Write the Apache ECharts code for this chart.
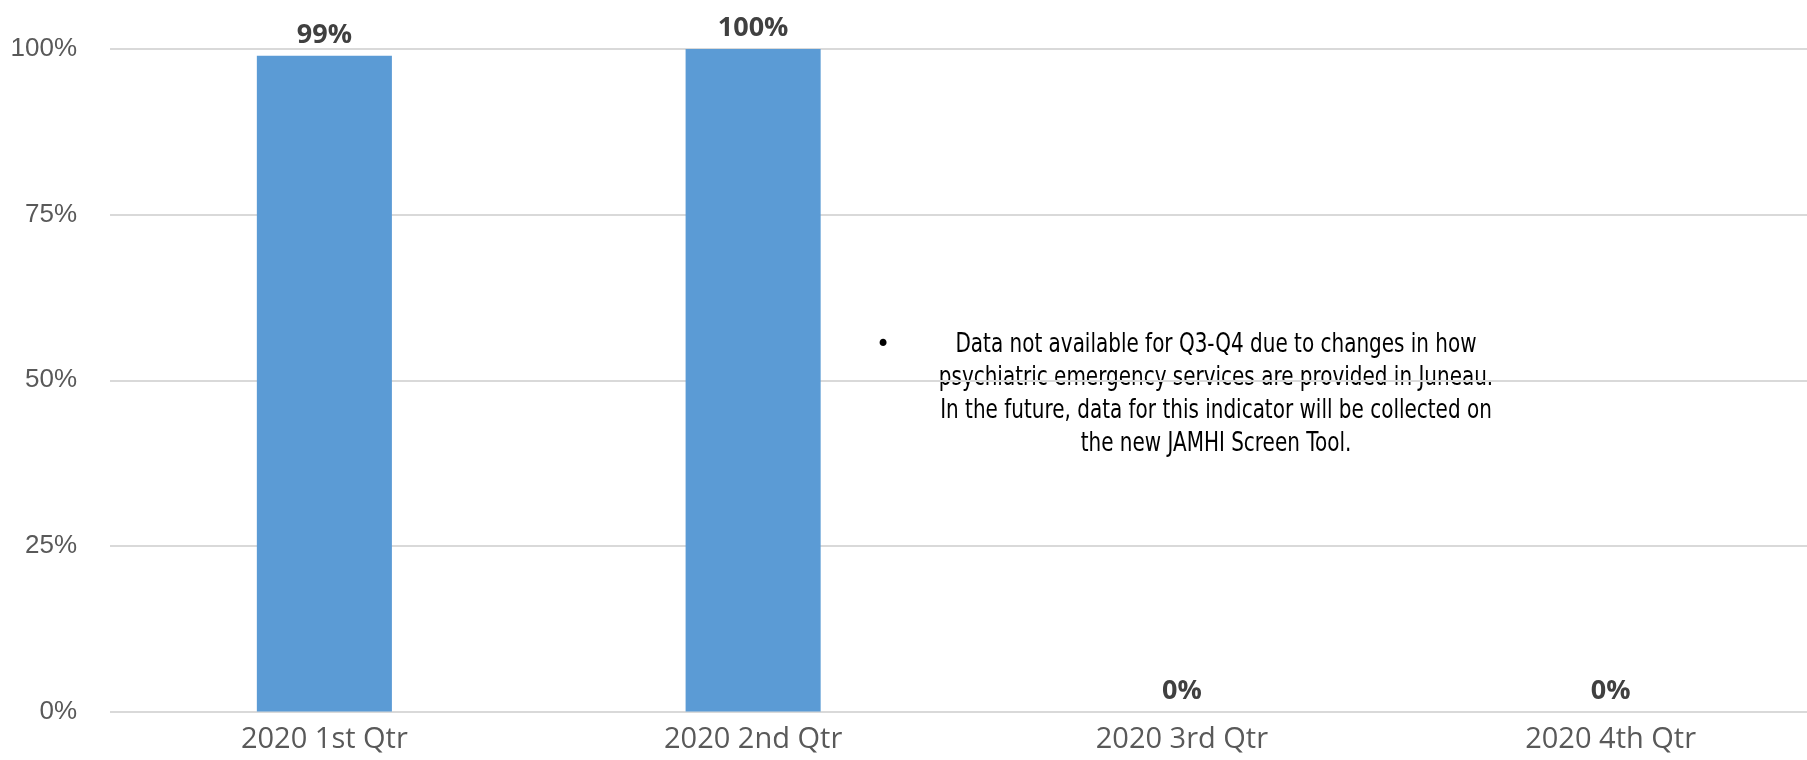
<!DOCTYPE html>
<html>
<head>
<meta charset="utf-8">
<script src="https://cdn.jsdelivr.net/npm/echarts@6/dist/echarts.min.js"></script>
<style>
  html, body { margin: 0; padding: 0; background: #ffffff; }
  #chart { width: 1807px; height: 760px; }
</style>
</head>
<body>
<div id="chart"></div>
<script>
// Quarterly share (fraction of 1) for 2020
const categories = ['2020 1st Qtr', '2020 2nd Qtr', '2020 3rd Qtr', '2020 4th Qtr'];
const values = [0.99, 1.00, 0, 0];
const yTicks = [0, 0.25, 0.5, 0.75, 1];
const noteLines = [
  'Data not available for Q3-Q4 due to changes in how',
  'psychiatric emergency services are provided in Juneau.',
  'In the future, data for this indicator will be collected on',
  'the new JAMHI Screen Tool.'
];

const pct = v => Math.round(v * 100) + '%';

const chart = echarts.init(document.getElementById('chart'), null, { renderer: 'canvas' });

chart.setOption({
  animation: false,
  backgroundColor: '#ffffff',
  // plot area runs a little past the right edge of the canvas
  grid: {
    left: 110, top: 49, width: 1715, height: 662.5,
    containLabel: false,
    outerBoundsMode: 'none'
  },
  xAxis: {
    type: 'category',
    data: categories,
    axisLine: { show: false },
    axisTick: { show: false },
    axisLabel: {
      margin: 14,
      color: '#595959',
      fontFamily: 'Open Sans',
      fontSize: 29
    }
  },
  yAxis: {
    type: 'value',
    min: yTicks[0],
    max: yTicks[yTicks.length - 1],
    interval: yTicks[1] - yTicks[0],
    axisLine: { show: false },
    axisTick: { show: false },
    splitLine: { lineStyle: { color: '#d9d9d9', width: 2 } },
    axisLabel: {
      margin: 33,
      color: '#595959',
      fontFamily: '"Liberation Sans", Arial, sans-serif',
      fontSize: 26,
      formatter: pct
    }
  },
  series: [{
    type: 'bar',
    data: values,
    barWidth: '31.5%',
    itemStyle: { color: '#5b9bd5' },
    label: {
      show: true,
      position: 'top',
      distance: 7,
      color: '#404040',
      fontFamily: 'Open Sans',
      fontWeight: 'bold',
      fontSize: 27,
      formatter: p => pct(p.value)
    }
  }],
  graphic: [
    {
      type: 'text',
      x: 876,
      y: 334,
      style: { text: '•', fontSize: 24, fontFamily: 'DejaVu Sans', fill: '#000000' }
    },
    {
      type: 'text',
      x: 1216,
      y: 328,
      scaleX: 0.74,
      style: {
        text: noteLines.join('\n'),
        fontFamily: '"DejaVu Sans", sans-serif',
        fontSize: 27,
        lineHeight: 33,
        fill: '#000000',
        align: 'center',
        verticalAlign: 'top'
      }
    }
  ]
});
</script>
</body>
</html>
